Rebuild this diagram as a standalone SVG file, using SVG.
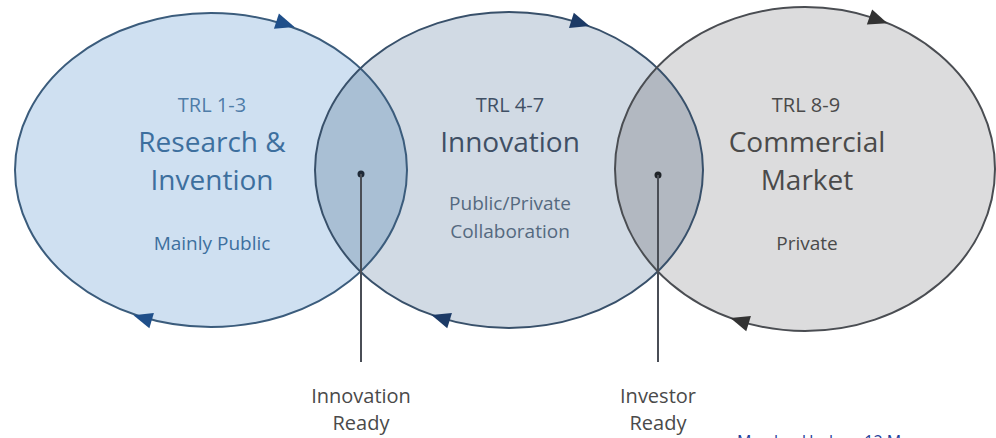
<svg xmlns="http://www.w3.org/2000/svg" width="996" height="438" viewBox="0 0 996 438">
  <style>
    text { font-family: "Open Sans", "Noto Sans", "DejaVu Sans", sans-serif; text-anchor: middle; }
    .trl { font-size: 20px; }
    .title { font-size: 28px; }
    .sub { font-size: 19px; }
    .lbl { font-size: 20px; fill: #4a4a4a; }
    .ring { fill: none; stroke-width: 2; }
    .blue { fill: #3d6f9e; }
    .slate { fill: #3f4f64; }
    .gray { fill: #4a4a4a; }
    .conn { stroke: #4a4e56; stroke-width: 2; }
  </style>
  <defs>
    <ellipse id="eL" cx="211" cy="170" rx="196" ry="157"/>
    <ellipse id="eM" cx="509" cy="170" rx="194" ry="158"/>
    <ellipse id="eR" cx="805" cy="169" rx="190" ry="162"/>
    <clipPath id="clipL"><use href="#eL"/></clipPath>
    <clipPath id="clipM"><use href="#eM"/></clipPath>
    <polygon id="arr" points="10,0 -9,-8 -9,8"/>
  </defs>
  <rect width="996" height="438" fill="#ffffff"/>

  <!-- base fills -->
  <g id="fills">
    <use href="#eL" fill="#cfe0f1"/>
    <use href="#eR" fill="#dcdcdd"/>
    <use href="#eM" fill="#d1dae4"/>
  </g>

  <!-- overlap lenses -->
  <g id="lens-innovation-ready">
    <use href="#eM" clip-path="url(#clipL)" fill="#a9bfd4"/>
    <circle cx="361" cy="174" r="3.5" fill="#1f2a38"/>
    <text class="lbl" x="361" y="403">Innovation</text>
    <text class="lbl" x="361" y="430">Ready</text>
  </g>
  <g id="lens-investor-ready">
    <use href="#eR" clip-path="url(#clipM)" fill="#b2b8c1"/>
    <circle cx="658" cy="175" r="3.5" fill="#1f2328"/>
    <text class="lbl" x="658" y="403">Investor</text>
    <text class="lbl" x="658" y="430">Ready</text>
  </g>

  <!-- nodes -->
  <g id="node-research">
    <use href="#eL" class="ring" stroke="#3b5c7c"/>
    <use href="#arr" fill="#1f4f8a" transform="translate(285,24) rotate(18)"/>
    <use href="#arr" fill="#1f4f8a" transform="translate(143,318) rotate(196.5)"/>
    <text class="trl blue" x="212" y="112" fill-opacity="0.9">TRL 1-3</text>
    <text class="title blue" x="212" y="152">Research &amp;</text>
    <text class="title blue" x="212" y="190">Invention</text>
    <text class="sub blue" x="212" y="250">Mainly Public</text>
  </g>
  <g id="node-innovation">
    <use href="#eM" class="ring" stroke="#38506a"/>
    <use href="#arr" fill="#1c3a66" transform="translate(580,23) rotate(17.7)"/>
    <use href="#arr" fill="#1c3a66" transform="translate(441,318) rotate(197)"/>
    <text class="trl slate" x="510" y="112">TRL 4-7</text>
    <text class="title slate" x="510" y="152">Innovation</text>
    <text class="sub" x="510" y="210" fill="#55697f">Public/Private</text>
    <text class="sub" x="510" y="238" fill="#55697f">Collaboration</text>
  </g>
  <g id="node-commercial">
    <use href="#eR" class="ring" stroke="#4a4d52"/>
    <use href="#arr" fill="#333" transform="translate(878,20) rotate(19.3)"/>
    <use href="#arr" fill="#333" transform="translate(740,321) rotate(197)"/>
    <text class="trl gray" x="806" y="112">TRL 8-9</text>
    <text class="title gray" x="807" y="152">Commercial</text>
    <text class="title gray" x="807" y="190">Market</text>
    <text class="sub gray" x="807" y="250">Private</text>
  </g>

  <!-- connectors -->
  <g id="connectors">
    <line class="conn" x1="361" y1="174" x2="361" y2="362"/>
    <line class="conn" x1="658" y1="175" x2="658" y2="362"/>
  </g>

  <text x="737" y="447" style="font-size:16px; text-anchor:start; fill:#1f3f9a;">Maydon Hudson 12 M</text>
</svg>
